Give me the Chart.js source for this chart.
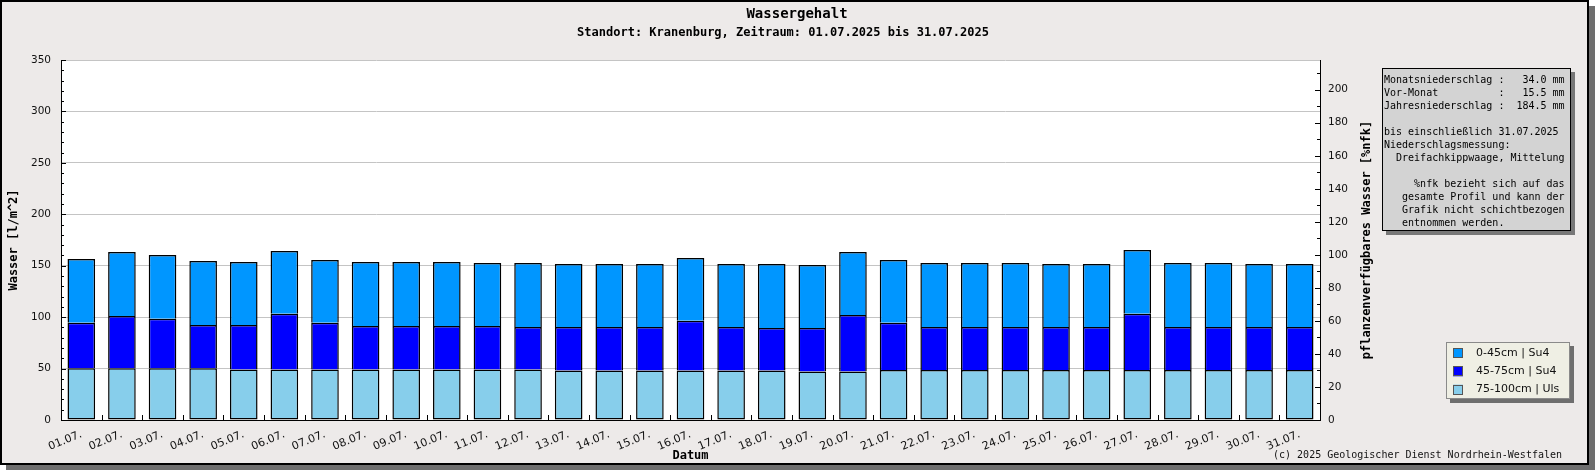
<!DOCTYPE html>
<html>
<head>
<meta charset="utf-8">
<script src="https://cdn.jsdelivr.net/npm/chart.js@4/dist/chart.umd.min.js"></script>
<style>
    html, body { margin: 0; padding: 0; background: #fff; }
    #wrap { width: 1595px; height: 470px; position: relative; }
</style>
</head>
<body>
<div id="wrap"><canvas id="water-chart"></canvas></div>
<script>
const dates = ['01.07.', '02.07.', '03.07.', '04.07.', '05.07.', '06.07.', '07.07.', '08.07.',
    '09.07.', '10.07.', '11.07.', '12.07.', '13.07.', '14.07.', '15.07.', '16.07.', '17.07.',
    '18.07.', '19.07.', '20.07.', '21.07.', '22.07.', '23.07.', '24.07.', '25.07.', '26.07.',
    '27.07.', '28.07.', '29.07.', '30.07.', '31.07.'];

// l/m^2 per layer
const layer75to100 = [50.2, 50.2, 50.2, 50.2, 49.2, 49.2, 49.2, 49.2, 49.2, 49.2, 49.2, 49.2,
    48.2, 48.2, 48.2, 48.2, 48.2, 48.2, 47.2, 47.2, 48.5, 48.5, 48.5, 48.5, 48.5, 48.5,
    48.5, 48.5, 48.5, 48.5, 48.5];
const layer45to75 = [44.4, 50.9, 48.3, 42.2, 43.2, 54.1, 45.4, 42.2, 42.2, 42.2, 42.2, 41.2,
    42.2, 42.2, 42.2, 48.3, 42.2, 41.2, 42.2, 54.9, 46.1, 41.9, 41.9, 41.9, 41.9, 41.9,
    54.8, 41.9, 41.9, 41.9, 41.9];
const layer0to45 = [61.9, 62.2, 61.9, 62.2, 61.2, 61.0, 61.0, 62.2, 62.2, 62.2, 61.2, 62.2,
    61.3, 61.3, 61.3, 61.0, 61.3, 62.3, 61.3, 61.2, 61.0, 62.2, 62.2, 62.2, 61.3, 61.3,
    62.0, 62.2, 62.2, 61.3, 61.3];

const layerNames = ['75-100cm | Uls', '45-75cm | Su4', '0-45cm | Su4'];

const infoLines = [
    'Monatsniederschlag :   34.0 mm',
    'Vor-Monat          :   15.5 mm',
    'Jahresniederschlag :  184.5 mm',
    '',
    'bis einschließlich 31.07.2025',
    'Niederschlagsmessung:',
    '  Dreifachkippwaage, Mittelung',
    '',
    '     %nfk bezieht sich auf das',
    '   gesamte Profil und kann der',
    '   Grafik nicht schichtbezogen',
    '   entnommen werden.'
];

const mono = '"DejaVu Sans Mono", "Liberation Mono", monospace';
const sans = '"DejaVu Sans", sans-serif';

// frame, titles, boxes
const decoPlugin = {
    id: 'deco',
    beforeDraw(chart) {
        const ctx = chart.ctx;
        const a = chart.chartArea;
        ctx.save();
        ctx.fillStyle = '#6e6e6e';
        ctx.fillRect(6, 6, 1589, 464);
        ctx.fillStyle = '#edeae9';
        ctx.fillRect(0, 0, 1589, 465);
        ctx.strokeStyle = '#000';
        ctx.lineWidth = 2;
        ctx.strokeRect(1, 1, 1587, 463);
        ctx.fillStyle = '#fff';
        ctx.fillRect(a.left, a.top, a.right - a.left, a.bottom - a.top);
        ctx.restore();
    },
    afterDatasetsDraw(chart) {
        const ctx = chart.ctx;
        const y = chart.scales.y, y2 = chart.scales.y2, x = chart.scales.x;
        ctx.save();
        ctx.strokeStyle = '#000';
        ctx.lineWidth = 1;
        ctx.beginPath();
        for (let v = 0; v <= 350; v += 10) {
            const py = Math.round(y.getPixelForValue(v)) + 0.5;
            const len = v % 50 === 0 ? 5 : 3;
            ctx.moveTo(y.right, py);
            ctx.lineTo(y.right + len, py);
        }
        for (let v = 0; v <= y2.max; v += 10) {
            const py = Math.round(y2.getPixelForValue(v)) + 0.5;
            const len = v % 20 === 0 ? 5 : 3;
            ctx.moveTo(y2.left, py);
            ctx.lineTo(y2.left - len, py);
        }
        for (let i = 1; i < dates.length; i++) {
            const px = Math.round((x.getPixelForValue(i - 1) + x.getPixelForValue(i)) / 2) + 0.5;
            ctx.moveTo(px, x.top);
            ctx.lineTo(px, x.top - 5);
        }
        ctx.stroke();
        ctx.restore();
    },
    afterDraw(chart) {
        const ctx = chart.ctx;
        const a = chart.chartArea;
        ctx.save();
        ctx.fillStyle = '#000';
        ctx.textAlign = 'center';
        ctx.textBaseline = 'middle';
        ctx.font = 'bold 14px ' + mono;
        ctx.fillText('Wassergehalt', 797, 14);
        ctx.font = 'bold 12px ' + mono;
        ctx.fillText('Standort: Kranenburg, Zeitraum: 01.07.2025 bis 31.07.2025', 783, 33);
        ctx.fillText('Datum', (a.left + a.right) / 2, 456);

        ctx.save();
        ctx.translate(14, (a.top + a.bottom) / 2);
        ctx.rotate(-Math.PI / 2);
        ctx.fillText('Wasser [l/m^2]', 0, 0);
        ctx.restore();
        ctx.save();
        ctx.translate(1367, (a.top + a.bottom) / 2);
        ctx.rotate(-Math.PI / 2);
        ctx.fillText('pflanzenverfügbares Wasser [%nfk]', 0, 0);
        ctx.restore();

        ctx.font = '10px ' + mono;
        ctx.textAlign = 'right';
        ctx.fillStyle = '#111';
        ctx.fillText('(c) 2025 Geologischer Dienst Nordrhein-Westfalen', 1562, 455);

        // info box
        ctx.fillStyle = '#777';
        ctx.fillRect(1386, 72, 189, 163);
        ctx.fillStyle = '#d3d3d3';
        ctx.fillRect(1382, 68, 189, 163);
        ctx.strokeStyle = '#000';
        ctx.lineWidth = 1;
        ctx.strokeRect(1382.5, 68.5, 188, 162);
        ctx.fillStyle = '#000';
        ctx.textAlign = 'left';
        ctx.font = '10px ' + mono;
        infoLines.forEach((line, i) => {
            ctx.fillText(line, 1384, 80 + i * 13);
        });

        // legend box
        ctx.fillStyle = '#6e6e6e';
        ctx.fillRect(1450, 346, 124, 57);
        ctx.fillStyle = '#efefe4';
        ctx.fillRect(1446, 342, 124, 57);
        ctx.strokeStyle = '#8a8a8a';
        ctx.strokeRect(1446.5, 342.5, 123, 56);
        ctx.font = '11px ' + sans;
        const ds = chart.data.datasets.slice().reverse();
        ds.forEach((d, i) => {
            const cy = 353 + i * 18.3;
            ctx.fillStyle = d.backgroundColor;
            ctx.fillRect(1453, cy - 5, 10, 10);
            ctx.strokeStyle = '#555';
            ctx.strokeRect(1453.5, Math.round(cy - 5) + 0.5, 9, 9);
            ctx.fillStyle = '#111';
            ctx.fillText(d.label, 1476, cy);
        });
        ctx.restore();
    }
};

const chartCanvas = document.getElementById('water-chart');
const layerColors = ['#87ceeb', '#0000ff', '#0096ff'];
const layerData = [layer75to100, layer45to75, layer0to45];

const waterChart = new Chart(chartCanvas, {
    type: 'bar',
    data: {
        labels: dates,
        datasets: layerData.map((values, i) => ({
            label: layerNames[i],
            data: values,
            backgroundColor: layerColors[i],
            borderColor: '#000',
            borderWidth: 1.5,
            borderSkipped: i === 0 ? false : 'bottom',
            barPercentage: 0.68,
            categoryPercentage: 1.0,
            yAxisID: 'y'
        }))
    },
    options: {
        responsive: true,
        maintainAspectRatio: false,
        animation: false,
        devicePixelRatio: 1,
        layout: { padding: { top: 60, left: 0, right: 0, bottom: 0 } },
        plugins: {
            legend: { display: false },
            title: { display: false },
            tooltip: { enabled: false }
        },
        scales: {
            x: {
                stacked: true,
                offset: true,
                grid: { display: false, drawTicks: false },
                border: { display: true, color: '#000', width: 1 },
                ticks: {
                    autoSkip: false,
                    minRotation: 22,
                    maxRotation: 22,
                    padding: 8,
                    color: '#111',
                    font: { family: sans, size: 11 }
                },
                afterFit(scale) { scale.height = 50; }
            },
            y: {
                stacked: true,
                position: 'left',
                min: 0,
                max: 350,
                ticks: {
                    stepSize: 50,
                    padding: 10,
                    color: '#111',
                    font: { family: sans, size: 10.5 }
                },
                grid: { color: '#c4c4c4', drawTicks: false },
                border: { display: true, color: '#000', width: 1 },
                afterFit(scale) { scale.width = 61; }
            },
            y2: {
                position: 'right',
                min: 0,
                max: 218,
                ticks: {
                    stepSize: 20,
                    padding: 8,
                    color: '#111',
                    font: { family: sans, size: 10.5 }
                },
                afterBuildTicks(scale) {
                    scale.ticks = scale.ticks.filter(t => t.value % 20 === 0);
                },
                grid: { drawOnChartArea: false, drawTicks: false },
                border: { display: true, color: '#000', width: 1 },
                afterFit(scale) { scale.width = 275; }
            }
        }
    },
    plugins: [decoPlugin]
});
</script>
</body>
</html>
